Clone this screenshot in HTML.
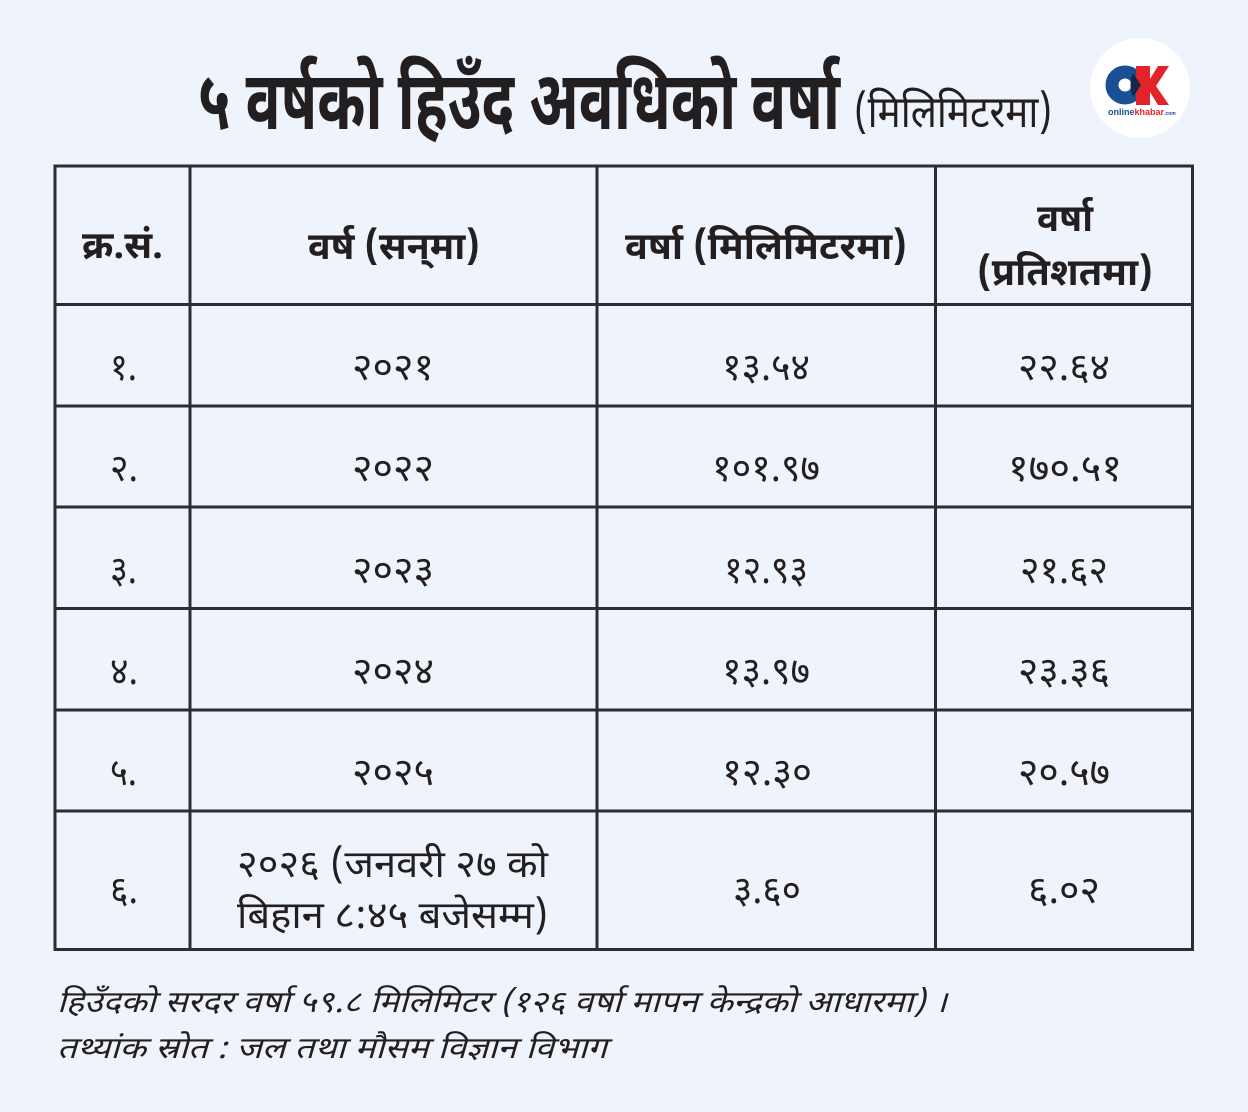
<!DOCTYPE html>
<html>
<head>
<meta charset="utf-8">
<style>
  html,body{margin:0;padding:0;}
  body{width:1248px;height:1112px;background:#eff3fb;overflow:hidden;}
  svg{display:block;}
  .dv{font-family:"Noto Sans Devanagari","Lohit Devanagari","Mukta","Kalimati","FreeSans","Liberation Sans",sans-serif;fill:#231f20;}
</style>
</head>
<body>
<svg width="1248" height="1112" viewBox="0 0 1248 1112" xmlns="http://www.w3.org/2000/svg">
  <rect x="0" y="0" width="1248" height="1112" fill="#eff3fb"/>

  <!-- Title -->
  <text class="dv" x="198" y="129" font-size="82" font-weight="bold" textLength="642" lengthAdjust="spacingAndGlyphs">५ वर्षको हिउँद अवधिको वर्षा</text>
  <text class="dv" x="854" y="127" font-size="44" textLength="198" lengthAdjust="spacingAndGlyphs">(मिलिमिटरमा)</text>

  <!-- Logo -->
  <circle cx="1140" cy="88" r="50" fill="#ffffff"/>
  <circle cx="1125" cy="85" r="13" fill="none" stroke="#1b4f93" stroke-width="13"/>
  <polygon points="1136,66 1150,66 1150,79 1158,66 1169,66 1156,86 1169,105 1158,105 1150,92 1150,105 1136,105" fill="#e2232a"/>
  <path d="M1133,73 L1141,85 L1133,97 Q1128,85 1133,73 Z" fill="#13294b"/>
  <text x="1108" y="115" font-family="Liberation Sans, sans-serif" font-size="9" font-weight="bold" fill="#1b4f93">online<tspan fill="#e2232a">khabar</tspan><tspan font-size="5">.com</tspan></text>

  <!-- Table grid -->
  <g stroke="#2d2c2e" stroke-width="3" fill="none">
    <rect x="55" y="166" width="1137.5" height="783.5"/>
    <line x1="190" y1="166" x2="190" y2="949.5"/>
    <line x1="597" y1="166" x2="597" y2="949.5"/>
    <line x1="935.5" y1="166" x2="935.5" y2="949.5"/>
    <line x1="55" y1="304.5" x2="1192.5" y2="304.5"/>
    <line x1="55" y1="406" x2="1192.5" y2="406"/>
    <line x1="55" y1="507" x2="1192.5" y2="507"/>
    <line x1="55" y1="608.5" x2="1192.5" y2="608.5"/>
    <line x1="55" y1="710" x2="1192.5" y2="710"/>
    <line x1="55" y1="811" x2="1192.5" y2="811"/>
  </g>

  <!-- Header -->
  <g class="dv" font-weight="bold" font-size="38">
    <text x="82" y="258" textLength="81" lengthAdjust="spacingAndGlyphs">क्र.सं.</text>
    <text x="308" y="259" textLength="172" lengthAdjust="spacingAndGlyphs">वर्ष (सन्‌मा)</text>
    <text x="625" y="259" textLength="282" lengthAdjust="spacingAndGlyphs">वर्षा (मिलिमिटरमा)</text>
    <text x="1037" y="231" textLength="56" lengthAdjust="spacingAndGlyphs">वर्षा</text>
    <text x="977" y="285" textLength="176" lengthAdjust="spacingAndGlyphs">(प्रतिशतमा)</text>
  </g>

  <!-- Data rows -->
  <g class="dv" font-size="38">
    <text x="110" y="380" textLength="27" lengthAdjust="spacingAndGlyphs">१.</text>
    <text x="352" y="380" textLength="82" lengthAdjust="spacingAndGlyphs">२०२१</text>
    <text x="722" y="380" textLength="88" lengthAdjust="spacingAndGlyphs">१३.५४</text>
    <text x="1018" y="380" textLength="92" lengthAdjust="spacingAndGlyphs">२२.६४</text>

    <text x="110" y="481" textLength="28" lengthAdjust="spacingAndGlyphs">२.</text>
    <text x="352" y="481" textLength="82" lengthAdjust="spacingAndGlyphs">२०२२</text>
    <text x="712" y="481" textLength="108" lengthAdjust="spacingAndGlyphs">१०१.९७</text>
    <text x="1008" y="481" textLength="114" lengthAdjust="spacingAndGlyphs">१७०.५१</text>

    <text x="110" y="583" textLength="27" lengthAdjust="spacingAndGlyphs">३.</text>
    <text x="352" y="583" textLength="82" lengthAdjust="spacingAndGlyphs">२०२३</text>
    <text x="724" y="583" textLength="84" lengthAdjust="spacingAndGlyphs">१२.९३</text>
    <text x="1020" y="583" textLength="88" lengthAdjust="spacingAndGlyphs">२१.६२</text>

    <text x="110" y="684" textLength="28" lengthAdjust="spacingAndGlyphs">४.</text>
    <text x="352" y="684" textLength="82" lengthAdjust="spacingAndGlyphs">२०२४</text>
    <text x="722" y="684" textLength="88" lengthAdjust="spacingAndGlyphs">१३.९७</text>
    <text x="1018" y="684" textLength="92" lengthAdjust="spacingAndGlyphs">२३.३६</text>

    <text x="110" y="785" textLength="27" lengthAdjust="spacingAndGlyphs">५.</text>
    <text x="352" y="785" textLength="82" lengthAdjust="spacingAndGlyphs">२०२५</text>
    <text x="722" y="785" textLength="90" lengthAdjust="spacingAndGlyphs">१२.३०</text>
    <text x="1018" y="785" textLength="92" lengthAdjust="spacingAndGlyphs">२०.५७</text>

    <text x="110" y="903" textLength="28" lengthAdjust="spacingAndGlyphs">६.</text>
    <text x="237" y="877" textLength="311" lengthAdjust="spacingAndGlyphs">२०२६ (जनवरी २७ को</text>
    <text x="237" y="928" textLength="311" lengthAdjust="spacingAndGlyphs">बिहान ८:४५ बजेसम्म)</text>
    <text x="733" y="903" textLength="68" lengthAdjust="spacingAndGlyphs">३.६०</text>
    <text x="1028" y="903" textLength="72" lengthAdjust="spacingAndGlyphs">६.०२</text>
  </g>

  <!-- Footer -->
  <g class="dv" font-size="30" font-style="italic">
    <text x="57" y="1012" textLength="890" lengthAdjust="spacingAndGlyphs">हिउँदको सरदर वर्षा ५९.८ मिलिमिटर (१२६ वर्षा मापन केन्द्रको आधारमा) ।</text>
    <text x="57" y="1058" textLength="550" lengthAdjust="spacingAndGlyphs">तथ्यांक स्रोत : जल तथा मौसम विज्ञान विभाग</text>
  </g>
</svg>
</body>
</html>
